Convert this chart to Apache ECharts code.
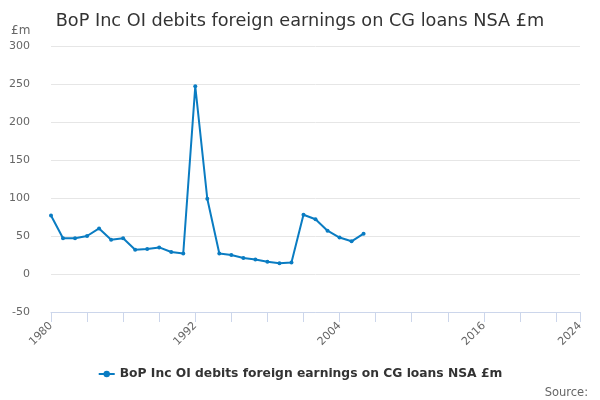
<!DOCTYPE html>
<html>
<head>
<meta charset="utf-8">
<script src="https://cdn.jsdelivr.net/npm/echarts@6/dist/echarts.min.js"></script>
<style>
  html, body { margin: 0; padding: 0; background: #fff; }
  #chart { width: 600px; height: 400px; }
</style>
</head>
<body>
<div id="chart"></div>
<script>
// data
var years = [1980, 1981, 1982, 1983, 1984, 1985, 1986, 1987, 1988, 1989, 1990,
  1991, 1992, 1993, 1994, 1995, 1996, 1997, 1998, 1999, 2000, 2001, 2002, 2003,
  2004, 2005, 2006];
var debits = [77, 47, 47, 50, 60, 45, 47, 32, 33, 35, 29,
  27, 247, 99, 27, 25, 21, 19, 16, 14, 15, 78, 72, 57,
  48, 43, 53];
var xLabelYears = [1980, 1992, 2004, 2016, 2024];
var seriesName = "BoP Inc OI debits foreign earnings on CG loans NSA £m";

var fontFamily = "'DejaVu Sans', Verdana, sans-serif";

var mychart = echarts.init(document.getElementById("chart"));
var option = {
  color: ["#0a7cc2"],
  textStyle: { fontFamily: fontFamily },
  title: [
    {
      text: seriesName,
      left: "center",
      top: 7,
      textStyle: {
        color: "#333",
        fontSize: 17.7,
        fontWeight: "normal",
        fontFamily: fontFamily,
      },
    },
    {
      text: "£m",
      left: 11,
      top: 25,
      padding: 0,
      textStyle: { color: "#666", fontSize: 12, fontWeight: "normal", fontFamily: fontFamily },
    },
    {
      text: "Source:",
      right: 7,
      top: 382,
      textStyle: { color: "#666", fontSize: 11.5, fontWeight: "normal", fontFamily: fontFamily },
    },
  ],
  legend: {
    bottom: 15,
    left: "center",
    itemWidth: 16,
    itemHeight: 8,
    textStyle: {
      color: "#333",
      fontSize: 12.3,
      fontWeight: "bold",
      fontFamily: fontFamily,
    },
    data: [seriesName],
  },
  grid: {
    left: 51,
    right: 20,
    top: 46,
    bottom: 88,
    containLabel: false,
  },
  xAxis: {
    type: "value",
    min: 1980,
    max: 2024,
    interval: 3,
    axisLine: { show: true, onZero: false, lineStyle: { color: "#ccd6eb", width: 1 } },
    axisTick: { show: true, length: 10, lineStyle: { color: "#ccd6eb" } },
    splitLine: { show: false },
    axisLabel: {
      rotate: 45,
      color: "#666",
      fontSize: 11,
      margin: 12,
      showMaxLabel: true,
      formatter: function (v) {
        return xLabelYears.indexOf(v) >= 0 ? String(v) : "";
      },
    },
  },
  yAxis: {
    type: "value",
    min: -50,
    max: 300,
    interval: 50,
    axisLine: { show: false },
    axisTick: { show: false },
    axisLabel: { color: "#666", fontSize: 11, margin: 21 },
    splitLine: { show: true, lineStyle: { color: "#e6e6e6", width: 1 } },
  },
  series: [
    {
      name: seriesName,
      type: "line",
      data: years.map(function (y, i) { return [y, debits[i]]; }),
      symbol: "circle",
      symbolSize: 4,
      showSymbol: true,
      lineStyle: { width: 2 },
      itemStyle: { color: "#0a7cc2" },
      animation: false,
    },
  ],
};
mychart.setOption(option);
</script>
</body>
</html>
